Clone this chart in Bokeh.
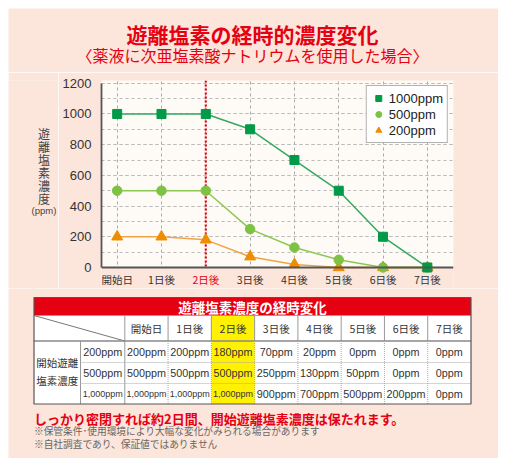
from bokeh.plotting import figure
from bokeh.models import (Range1d, SingleIntervalTicker, FixedTicker, BoxAnnotation, Span,
                          Legend, LegendItem, ColumnDataSource, Label)
from bokeh.layouts import column, row
from bokeh.core.properties import value
from bokeh.embed import file_html
from bokeh.resources import INLINE

# ---------------- data ----------------
days = [0, 1, 2, 3, 4, 5, 6, 7]
day_labels = ["開始日", "1日後", "2日後", "3日後", "4日後", "5日後", "6日後", "7日後"]
highlight_day = 2
series_names = ["1000ppm", "500ppm", "200ppm"]
conc_1000 = [1000, 1000, 1000, 900, 700, 500, 200, 0]
conc_500 = [500, 500, 500, 250, 130, 50, 0, 0]
conc_200 = [200, 200, 180, 70, 20, 0, 0, 0]
table_start_values = [200, 500, 1000]
y_tick_interval = 200

title_text = "遊離塩素の経時的濃度変化"
subtitle_text = "〈薬液に次亜塩素酸ナトリウムを使用した場合〉"
ylabel_text = "遊\n離\n塩\n素\n濃\n度"
ylabel_unit = "(ppm)"
table_title = "遊離塩素濃度の経時変化"
row_header = "開始遊離\n塩素濃度"
conclusion = "しっかり密閉すれば約2日間、開始遊離塩素濃度は保たれます。"
notes = ["※保管条件･使用環境により大幅な変化がみられる場合があります",
         "※自社調査であり、保証値ではありません"]

# ---------------- styles ----------------
PEACH = "#FCE5DA"
CREAM = "#FEFAF5"
RED = "#E50012"
DKGREEN = "#009A48"
DKGREEN_L = "#35A862"
LTGREEN = "#7DC243"
LTGREEN_L = "#8DC852"
ORANGE = "#F08C00"
ORANGE_L = "#F2A444"
JP = "Noto Sans CJK JP"
NUM = "Liberation Sans"
W = 490


def deco_fig(w, h, x0, y0):
    f = figure(width=w, height=h, x_range=Range1d(x0, x0 + w), y_range=Range1d(y0 + h, y0),
               output_backend="svg", toolbar_location=None, min_border=0,
               x_axis_location=None, y_axis_location=None)
    f.grid.visible = False
    f.outline_line_color = None
    f.background_fill_color = PEACH
    f.border_fill_color = PEACH
    return f


# ---------------- title ----------------
tfig = deco_fig(W, 64, 8, 8)
tfig.add_layout(Label(x=252, y=33, text=title_text, text_align="center", text_baseline="middle",
                      text_font=JP, text_font_style="bold", text_font_size="21px", text_color=RED))
tfig.add_layout(Label(x=252, y=54, text=subtitle_text, text_align="center", text_baseline="middle",
                      text_font=JP, text_font_size="16px", text_color=RED))

# ---------------- y label ----------------
yfig = deco_fig(50, 216, 8, 72)
yfig.add_layout(Label(x=43.5, y=161, text=ylabel_text, text_align="center", text_baseline="middle",
                      text_font=JP, text_font_size="12px", text_line_height=0.77, text_color="#444"))
yfig.add_layout(Label(x=43.5, y=207, text=ylabel_unit, text_align="center", text_baseline="middle",
                      text_font=NUM, text_font_size="9.5px", text_color="#444"))

# ---------------- chart ----------------
label_colors = [RED if d == highlight_day else "#333333" for d in days]
src = ColumnDataSource(dict(day=days, c1000=conc_1000, c500=conc_500, c200=conc_200,
                            label=day_labels, lcolor=label_colors))

p = figure(width=440, height=216, x_range=Range1d(-0.354, 7.59), y_range=Range1d(-137, 1218),
           output_backend="svg", toolbar_location=None,
           min_border_left=43, min_border_right=45, min_border_top=8, min_border_bottom=0)
p.background_fill_color = PEACH
p.border_fill_color = PEACH
p.outline_line_color = None

p.yaxis.ticker = SingleIntervalTicker(interval=y_tick_interval, num_minor_ticks=2)
p.yaxis.bounds = (0, 1200)
p.yaxis.axis_line_color = "#555555"
p.yaxis.axis_line_width = 1.8
p.yaxis.major_tick_line_color = None
p.yaxis.minor_tick_line_color = None
p.yaxis.major_label_text_font = NUM
p.yaxis.major_label_text_font_size = "13px"
p.yaxis.major_label_text_color = "#333333"
p.yaxis.major_label_standoff = 4

p.xaxis.ticker = FixedTicker(ticks=[])
p.xaxis.fixed_location = 0
p.xaxis.axis_line_color = "#555555"
p.xaxis.axis_line_width = 1.8
p.xaxis.major_tick_line_color = None
p.xaxis.minor_tick_line_color = None

p.xgrid.ticker = FixedTicker(ticks=days)
p.xgrid.grid_line_color = "#AAAAAA"
p.xgrid.grid_line_dash = "3 3"
p.ygrid.grid_line_color = "#BBBBBB"
p.ygrid.grid_line_dash = "3 3"
p.ygrid.minor_grid_line_color = "#BBBBBB"
p.ygrid.minor_grid_line_dash = "3 3"

p.add_layout(BoxAnnotation(bottom=0, fill_color=CREAM, fill_alpha=1, line_alpha=0, level="image"))
p.add_layout(Span(location=highlight_day, dimension="height", line_color=RED, line_width=2.2,
                  line_dash="2 2", level="underlay"))
p.add_layout(BoxAnnotation(top=0, fill_color=PEACH, fill_alpha=1, line_alpha=0, level="underlay"))

p.line("day", "c200", source=src, line_color=ORANGE_L, line_width=1.5)
r200 = p.scatter("day", "c200", source=src, marker="triangle", size=11,
                 fill_color=ORANGE, line_color=ORANGE)
p.line("day", "c500", source=src, line_color=LTGREEN_L, line_width=1.5)
r500 = p.scatter("day", "c500", source=src, marker="circle", size=9.5,
                 fill_color=LTGREEN, line_color=LTGREEN)
p.line("day", "c1000", source=src, line_color=DKGREEN_L, line_width=1.5)
r1000 = p.scatter("day", "c1000", source=src, marker="square", size=9,
                  fill_color=DKGREEN, line_color=DKGREEN)

p.text(x="day", y=0, text="label", source=src, text_color="lcolor", text_font=value(JP),
       text_font_size="10.5px", text_align="center", text_baseline="middle", y_offset=12)

legend = Legend(items=[LegendItem(label=series_names[0], renderers=[r1000]),
                       LegendItem(label=series_names[1], renderers=[r500]),
                       LegendItem(label=series_names[2], renderers=[r200])],
                location="top_right")
legend.border_line_color = "#666666"
legend.border_line_width = 1.5
legend.background_fill_color = "white"
legend.background_fill_alpha = 1
legend.label_text_font = NUM
legend.label_text_font_size = "13px"
legend.label_text_color = "#222222"
legend.glyph_width = 15
legend.glyph_height = 16
legend.label_height = 16
legend.label_standoff = 3
legend.spacing = 0
legend.padding = 4
legend.margin = 5
p.add_layout(legend)

# ---------------- table + footer ----------------
tb = deco_fig(W, 170, 8, 288)
TL, TR = 33.5, 470.5
BAR_T, BAR_B, HEAD_B = 297, 315, 340.5
ROW_B = [362, 383, 403.5]
ROW_T = [HEAD_B] + ROW_B[:-1]
C1, C2 = 80, 124.3
cw = (TR - C2) / len(days)
edges = [C2 + i * cw for i in range(len(days) + 1)]
centers = [(edges[i] + edges[i + 1]) / 2 for i in range(len(days))]
BOT = ROW_B[-1]

tb.quad(left=[TL], right=[TR], top=[BAR_B], bottom=[BOT], fill_color="white", line_color=None)
tb.quad(left=[edges[highlight_day]], right=[edges[highlight_day + 1]], top=[BAR_B], bottom=[BOT],
        fill_color="#FFF100", line_color=None)
tb.quad(left=[TL], right=[TR], top=[BAR_T], bottom=[BAR_B], fill_color=RED, line_color=None)

# header verticals
tb.segment(x0=edges[:-1], y0=[BAR_B] * len(days), x1=edges[:-1], y1=[HEAD_B] * len(days),
           line_color="#999999", line_width=1)
tb.segment(x0=[TL], y0=[BAR_B], x1=[C2], y1=[HEAD_B], line_color="#777777", line_width=1)
tb.segment(x0=[TL], y0=[HEAD_B], x1=[TR], y1=[HEAD_B], line_color="#888888", line_width=1.5)
# body verticals
tb.segment(x0=[C1, C2], y0=[HEAD_B] * 2, x1=[C1, C2], y1=[BOT] * 2, line_color="#999999", line_width=1)
tb.segment(x0=edges[1:-1], y0=[HEAD_B] * (len(days) - 1), x1=edges[1:-1], y1=[BOT] * (len(days) - 1),
           line_color="#AAAAAA", line_width=1, line_dash="1 1")
tb.segment(x0=[C1] * 2, y0=ROW_B[:-1], x1=[TR] * 2, y1=ROW_B[:-1],
           line_color="#AAAAAA", line_width=1, line_dash="1 1")
tb.quad(left=[TL], right=[TR], top=[BAR_T], bottom=[BOT], fill_color=None,
        line_color="#555555", line_width=1.2)

tb.add_layout(Label(x=(TL + TR) / 2, y=(BAR_T + BAR_B) / 2 + 0.5, text=table_title, text_align="center",
                    text_baseline="middle", text_font=JP, text_font_style="bold",
                    text_font_size="13.5px", text_color="white"))
hsrc = ColumnDataSource(dict(x=centers, y=[(BAR_B + HEAD_B) / 2] * len(days), t=day_labels))
tb.text(x="x", y="y", text="t", source=hsrc, text_font=value(JP), text_font_size="10.5px",
        text_align="center", text_baseline="middle", text_color="#333333")
tb.add_layout(Label(x=(TL + C1) / 2, y=(HEAD_B + BOT) / 2 - 1, text=row_header, text_align="center",
                    text_baseline="middle", text_font=JP, text_font_size="10.5px",
                    text_line_height=1.2, text_color="#333333"))

rows_data = {200: conc_200, 500: conc_500, 1000: conc_1000}
xs, ys, ts, fs = [], [], [], []
for r, start in enumerate(table_start_values):
    yc = (ROW_T[r] + ROW_B[r]) / 2
    lab = f"{start:,}ppm"
    xs.append((C1 + C2) / 2); ys.append(yc); ts.append(lab)
    fs.append("9px" if len(lab) > 6 else "10.8px")
    for d in days:
        s = f"{rows_data[start][d]:,}ppm"
        xs.append(centers[d]); ys.append(yc); ts.append(s)
        fs.append("9px" if len(s) > 6 else "10.8px")
csrc = ColumnDataSource(dict(x=xs, y=ys, t=ts, fs=fs))
tb.text(x="x", y="y", text="t", source=csrc, text_font=value(NUM), text_font_size="fs",
        text_align="center", text_baseline="middle", text_color="#333333")

tb.add_layout(Label(x=TL, y=418, text=conclusion, text_align="left", text_baseline="middle",
                    text_font=JP, text_font_style="bold", text_font_size="13px", text_color=RED))
tb.add_layout(Label(x=TL, y=430, text=notes[0], text_align="left", text_baseline="middle",
                    text_font=JP, text_font_size="9.7px", text_color="#666666"))
tb.add_layout(Label(x=TL, y=443.5, text=notes[1], text_align="left", text_baseline="middle",
                    text_font=JP, text_font_size="9.7px", text_color="#666666"))

layout = column(tfig, row(yfig, p), tb, margin=(8, 0, 0, 8))
open("out.html", "w").write(file_html(layout, INLINE))
